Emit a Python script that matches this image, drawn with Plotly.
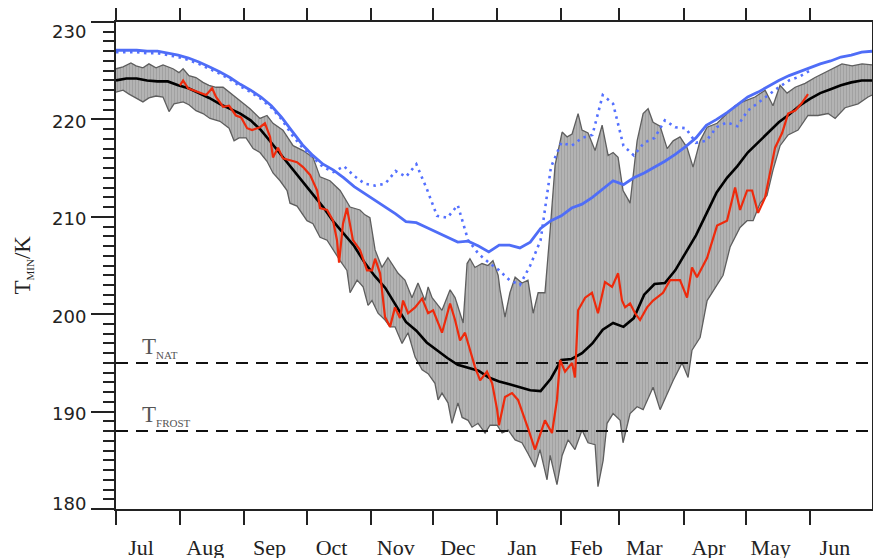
import plotly.graph_objects as go

# ---------------- data (days since 1 July, temperature in K) ----------------
months = ["Jul", "Aug", "Sep", "Oct", "Nov", "Dec", "Jan", "Feb", "Mar", "Apr", "May", "Jun"]
month_start = [0, 31, 62, 92, 123, 153, 184, 215, 243, 274, 304, 335]

days5 = list(range(0, 366, 5))

blue_solid = [227.1, 227.1, 227.1, 227.0, 227.0, 226.8, 226.6, 226.3, 225.9, 225.4,
              224.9, 224.3, 223.6, 223.0, 222.3, 221.4, 220.2, 218.8, 217.4, 216.3,
              215.4, 214.8, 214.0, 213.1, 212.4, 211.7, 211.0, 210.3, 209.5, 209.4,
              208.9, 208.4, 207.9, 207.4, 207.5, 207.0, 206.4, 207.1, 207.1, 206.8,
              207.4, 208.8, 209.6, 210.1, 210.9, 211.3, 212.0, 212.9, 213.7, 213.3,
              214.0, 214.5, 215.1, 215.7, 216.4, 217.2, 218.1, 219.4, 220.0, 220.7,
              221.5, 222.3, 222.8, 223.4, 224.0, 224.5, 224.9, 225.3, 225.7, 226.0,
              226.4, 226.6, 226.9, 227.0]

blue_dotted = [226.9, 226.9, 226.9, 226.8, 226.8, 226.6, 226.4, 226.1, 225.7, 225.2,
               224.7, 224.1, 223.4, 222.8, 222.1, 221.2, 220.0, 218.4, 217.1, 216.1,
               215.1, 214.6, 215.2, 214.2, 213.4, 213.2, 213.4, 214.7, 214.1, 215.4,
               212.9, 210.1, 209.9, 211.2, 207.6, 206.2, 205.3, 204.5, 203.5, 203.0,
               205.0, 207.6, 215.1, 217.6, 217.3, 218.1, 218.4, 222.5, 221.6, 217.3,
               216.3, 217.6, 218.1, 219.9, 219.2, 219.1, 217.6, 217.8, 219.2, 219.7,
               219.3, 220.9, 221.7, 222.5, 223.3, 224.0, 224.4, 225.0, None, None,
               None, None, None, None]

black_mean = [224.0, 224.2, 224.2, 224.0, 223.9, 223.9, 223.5, 223.2, 222.7, 222.2,
              221.6, 221.1, 220.6, 219.9, 218.9, 217.6, 216.3, 215.0, 213.7, 212.4,
              211.0, 209.5, 208.2, 207.0, 205.3, 203.9, 202.7, 201.0, 199.2, 198.3,
              197.1, 196.3, 195.5, 194.8, 194.5, 194.2, 193.5, 193.1, 192.8, 192.5,
              192.2, 192.1, 193.4, 195.3, 195.4, 196.0, 197.0, 198.4, 199.1, 198.7,
              199.6, 202.0, 203.1, 203.2, 204.5, 206.3, 208.1, 210.3, 212.5, 214.0,
              215.2, 216.6, 217.6, 218.6, 219.7, 220.5, 221.4, 222.1, 222.7, 223.1,
              223.5, 223.8, 224.0, 224.0]

red_day = [30.9, 32.4, 34.8, 37.2, 40.1, 43.5, 46.4, 48.3, 51.7, 54.6, 57.9, 60.4, 63.3,
           65.7, 69.5, 71.9, 74.4, 75.8, 78.2, 80.6, 84.0, 87.4, 90.3, 93.7, 97.1, 98.5,
           101.9, 104.8, 106.7, 107.7, 109.6, 111.5, 114.4, 117.8, 121.2, 123.6, 125.1,
           127.5, 129.9, 132.3, 134.7, 137.1, 138.6, 141.0, 144.4, 147.8, 150.7, 153.1,
           157.4, 161.3, 163.7, 166.1, 168.5, 170.0, 173.3, 175.8, 179.1, 181.6, 184.0,
           184.9, 187.8, 191.2, 194.1, 198.9, 202.3, 207.1, 210.5, 212.9, 214.4, 216.8,
           220.2, 221.6, 223.1, 226.5, 229.8, 232.7, 236.1, 239.5, 242.4, 244.3, 245.8,
           248.2, 250.6, 253.0, 256.4, 259.3, 264.1, 267.5, 272.3, 275.7, 278.1, 280.5,
           285.4, 290.2, 295.0, 298.9, 301.3, 304.7, 307.1, 310.0, 313.4, 318.2, 321.6,
           324.5, 327.9, 331.2, 334.1]
red_t = [223.5, 224.0, 223.2, 223.0, 222.8, 222.5, 223.2, 222.3, 221.3, 221.4, 220.4, 220.2,
         219.1, 218.9, 219.2, 219.6, 218.2, 216.1, 217.1, 216.0, 215.8, 215.6, 215.1, 214.3,
         212.7, 210.9, 210.7, 209.6, 207.6, 205.3, 209.3, 210.9, 207.6, 206.6, 204.5, 204.5,
         205.7, 204.2, 199.7, 198.7, 200.7, 199.6, 201.4, 200.1, 200.7, 201.6, 200.1, 200.4,
         198.1, 201.1, 199.4, 197.3, 198.1, 197.0, 194.6, 193.2, 194.1, 192.9, 190.2, 188.6,
         191.5, 191.9, 191.2, 188.3, 186.1, 189.1, 187.8, 191.2, 195.3, 194.1, 195.0, 193.5,
         200.4, 201.7, 202.2, 200.1, 203.3, 202.8, 204.2, 201.4, 200.7, 201.1, 200.1, 199.4,
         200.7, 201.4, 202.2, 203.5, 203.5, 201.7, 204.8, 203.8, 205.8, 209.1, 209.6, 213.0,
         210.7, 212.7, 212.7, 210.4, 212.0, 217.1, 218.6, 220.6, 220.9, 221.7, 222.6]

upper_day = [0.0, 3.4, 7.2, 9.7, 13.0, 15.9, 19.3, 22.7, 27.5, 30.4, 32.4, 35.2, 38.6, 42.0,
             44.9, 48.3, 51.7, 54.6, 57.9, 61.3, 64.7, 69.5, 72.9, 75.8, 80.6, 85.5, 90.3,
             95.1, 98.5, 103.3, 108.2, 113.0, 117.8, 120.2, 122.6, 125.1, 128.4, 131.3,
             136.2, 139.5, 142.9, 145.8, 149.2, 150.7, 152.6, 157.4, 161.3, 163.7, 166.1,
             167.6, 169.5, 170.9, 173.3, 176.7, 179.6, 182.0, 184.5, 185.4, 187.8, 190.2,
             192.7, 196.0, 198.9, 201.4, 203.8, 207.1, 209.6, 212.0, 215.4, 217.8, 220.2,
             223.1, 225.0, 227.9, 231.3, 234.7, 237.6, 240.0, 242.4, 244.8, 246.7, 248.2,
             251.6, 254.5, 256.9, 259.3, 262.7, 266.1, 269.0, 272.3, 275.7, 278.6, 282.0,
             285.4, 290.2, 295.0, 298.9, 301.3, 304.7, 308.5, 313.4, 317.2, 320.6, 324.0,
             327.9, 332.7, 337.5, 343.8, 350.5, 355.4, 360.2, 365.0]
upper_t = [225.2, 225.4, 225.8, 225.5, 225.3, 225.7, 225.3, 225.6, 225.2, 224.8, 225.2,
           224.5, 224.3, 223.8, 223.5, 223.3, 223.3, 222.8, 222.3, 221.7, 221.1, 220.1,
           220.4, 219.6, 218.9, 217.3, 216.8, 216.1, 214.1, 213.7, 212.7, 211.0, 210.7,
           210.2, 209.9, 206.6, 204.8, 205.8, 204.2, 203.5, 201.7, 203.2, 201.4, 202.8,
           201.7, 200.4, 202.5, 201.7, 200.1, 199.1, 205.2, 205.7, 204.8, 205.2, 205.0,
           205.5, 204.0, 202.5, 199.7, 202.2, 203.8, 203.2, 203.5, 200.1, 202.2, 202.2,
           208.6, 215.3, 218.7, 218.2, 218.5, 220.6, 218.9, 218.6, 216.8, 219.4, 216.3,
           216.6, 216.1, 212.7, 212.0, 211.4, 217.8, 220.6, 221.1, 219.7, 219.3, 217.0,
           217.8, 218.2, 217.1, 215.1, 217.8, 219.2, 219.6, 220.6, 221.4, 221.7, 222.0,
           222.3, 223.0, 221.4, 223.5, 222.7, 223.3, 223.7, 224.3, 225.0, 225.7, 225.5,
           225.7, 225.6]

lower_day = [0.0, 3.4, 6.3, 9.7, 13.0, 15.9, 19.3, 22.7, 25.6, 28.0, 32.4, 35.2, 38.6, 42.0,
             45.4, 50.2, 54.6, 57.0, 59.4, 62.8, 66.2, 69.5, 72.9, 75.8, 79.2, 82.6, 84.0,
             87.4, 92.2, 95.1, 98.5, 101.9, 104.8, 108.2, 111.5, 113.0, 116.4, 119.3, 121.7,
             123.6, 126.5, 129.9, 132.3, 134.7, 138.1, 141.0, 144.4, 147.8, 150.7, 154.0,
             155.5, 157.4, 160.3, 162.2, 165.1, 167.1, 170.0, 171.9, 174.8, 178.2, 180.6,
             184.0, 186.4, 189.3, 192.7, 196.0, 198.9, 202.3, 204.7, 208.1, 209.6, 212.9,
             215.4, 218.3, 221.6, 225.0, 227.9, 231.3, 232.7, 235.2, 237.1, 240.0, 243.4,
             244.8, 248.2, 251.6, 254.5, 259.3, 262.7, 266.1, 269.0, 273.3, 276.2, 278.1,
             282.0, 285.4, 290.2, 293.1, 296.5, 301.3, 304.7, 307.6, 311.0, 314.3, 317.2,
             320.6, 324.5, 329.3, 334.1, 338.9, 343.8, 347.2, 352.0, 358.3, 363.1, 365.0]
lower_t = [222.8, 223.0, 222.6, 222.2, 221.8, 222.2, 222.4, 222.3, 220.8, 221.6, 221.8,
           221.5, 220.9, 220.6, 220.1, 219.8, 219.1, 217.8, 218.1, 218.1, 217.0, 216.6,
           215.7, 214.5, 213.7, 212.7, 211.4, 211.1, 209.6, 209.3, 207.9, 207.6, 206.6,
           205.5, 204.5, 202.2, 203.5, 202.8, 200.9, 201.4, 200.1, 199.4, 198.7, 198.7,
           197.0, 198.1, 195.6, 194.3, 193.9, 192.9, 191.2, 191.9, 190.9, 188.8, 190.9,
           189.4, 189.1, 188.4, 188.8, 187.8, 188.6, 188.6, 187.8, 188.1, 187.1, 186.8,
           185.7, 184.3, 186.1, 183.0, 185.5, 182.5, 185.5, 187.1, 186.1, 188.1, 186.8,
           186.6, 182.3, 185.0, 188.8, 189.8, 189.1, 186.8, 189.8, 190.5, 190.2, 192.5,
           190.2, 191.9, 193.2, 195.0, 193.5, 196.3, 197.6, 201.4, 203.0, 204.0, 206.9,
           208.9, 209.6, 209.6, 211.4, 212.2, 214.8, 217.3, 218.4, 218.9, 220.4, 220.4,
           220.6, 220.1, 221.2, 221.6, 222.3, 222.5]

thresholds = [195, 188]
threshold_names = ["NAT", "FROST"]

y_ticks = [180, 190, 200, 210, 220, 230]

# ---------------- figure ----------------
AX = "#222222"
fig = go.Figure()

# min-max band
fig.add_trace(go.Scatter(
    x=upper_day + lower_day[::-1], y=upper_t + lower_t[::-1],
    mode="lines", fill="toself", fillcolor="#ababab",
    fillpattern=dict(shape="|", size=3, solidity=0.35, fgcolor="#8f8f8f", bgcolor="#b3b3b3"),
    line=dict(width=0), hoverinfo="skip", showlegend=False))
for dd, tt in ((upper_day, upper_t), (lower_day, lower_t)):
    fig.add_trace(go.Scatter(x=dd, y=tt, mode="lines",
                             line=dict(color="#5e5e5e", width=1.3), showlegend=False))

# threshold lines
for t in thresholds:
    fig.add_trace(go.Scatter(x=[month_start[0], 365], y=[t, t], mode="lines",
                             line=dict(color="#111111", width=2, dash="12px,8px"),
                             showlegend=False))

fig.add_trace(go.Scatter(x=days5, y=blue_dotted, mode="lines",
                         line=dict(color="#5470ff", width=2.6, dash="2.5px,4.5px"),
                         showlegend=False))
fig.add_trace(go.Scatter(x=days5, y=blue_solid, mode="lines",
                         line=dict(color="#4f6df7", width=2.8), showlegend=False))
fig.add_trace(go.Scatter(x=days5, y=black_mean, mode="lines",
                         line=dict(color="#000000", width=2.6), showlegend=False))
fig.add_trace(go.Scatter(x=red_day, y=red_t, mode="lines",
                         line=dict(color="#ee2a0c", width=2.2), showlegend=False))

# threshold labels
for t, nm in zip(thresholds, threshold_names):
    fig.add_annotation(x=11.5, y=t, xref="x", yref="y", xanchor="left", yanchor="bottom",
                       yshift=0, showarrow=False,
                       text="T<sub><span style='font-size:11px'>" + nm + "</span></sub>",
                       font=dict(family="Liberation Serif", size=23, color="#555555"))

# y tick labels (the end labels sit slightly inward, as in the original)
for v in y_ticks:
    shift = -9 if v == y_ticks[-1] else (6 if v == y_ticks[0] else -2)
    fig.add_annotation(x=0, y=v, xref="paper", yref="y", xanchor="right", yanchor="middle",
                       xshift=-28, yshift=shift, showarrow=False, text=str(v),
                       font=dict(family="DejaVu Sans", size=18, color="#222222"))

# y-axis title
fig.add_annotation(x=-0.123, y=0.5, xref="paper", yref="paper", textangle=-90,
                   showarrow=False, xanchor="center", yanchor="middle",
                   text="T<sub><span style='font-size:11px'>MIN</span></sub>/K",
                   font=dict(family="Liberation Serif", size=23, color="#222222"))

# the page body adds an 8 px offset, so the figure is 8 px smaller and margins shifted
fig.update_layout(
    width=873, height=550,
    margin=dict(l=108, r=9, t=14, b=49, autoexpand=False),
    plot_bgcolor="white", paper_bgcolor="white",
    showlegend=False,
    xaxis=dict(range=[0, 365], tickmode="array", tickvals=month_start, ticktext=months,
               ticks="outside", ticklen=14, tickwidth=2, tickcolor=AX,
               showline=True, linewidth=2, linecolor=AX, mirror="ticks",
               showgrid=False, zeroline=False, automargin=False,
               tickfont=dict(family="Liberation Serif", size=22, color="#222222"),
               ticklabelshift=25, ticklabelstandoff=4),
    yaxis=dict(range=[180, 230], tickmode="array", tickvals=y_ticks,
               showticklabels=False,
               ticks="outside", ticklen=23, tickwidth=2, tickcolor=AX,
               minor=dict(tick0=180, dtick=1, ticks="outside", ticklen=11, tickwidth=1.5,
                          tickcolor=AX),
               showline=True, linewidth=2, linecolor=AX, mirror="ticks",
               showgrid=False, zeroline=False, automargin=False),
)

fig.write_html("out.html")
